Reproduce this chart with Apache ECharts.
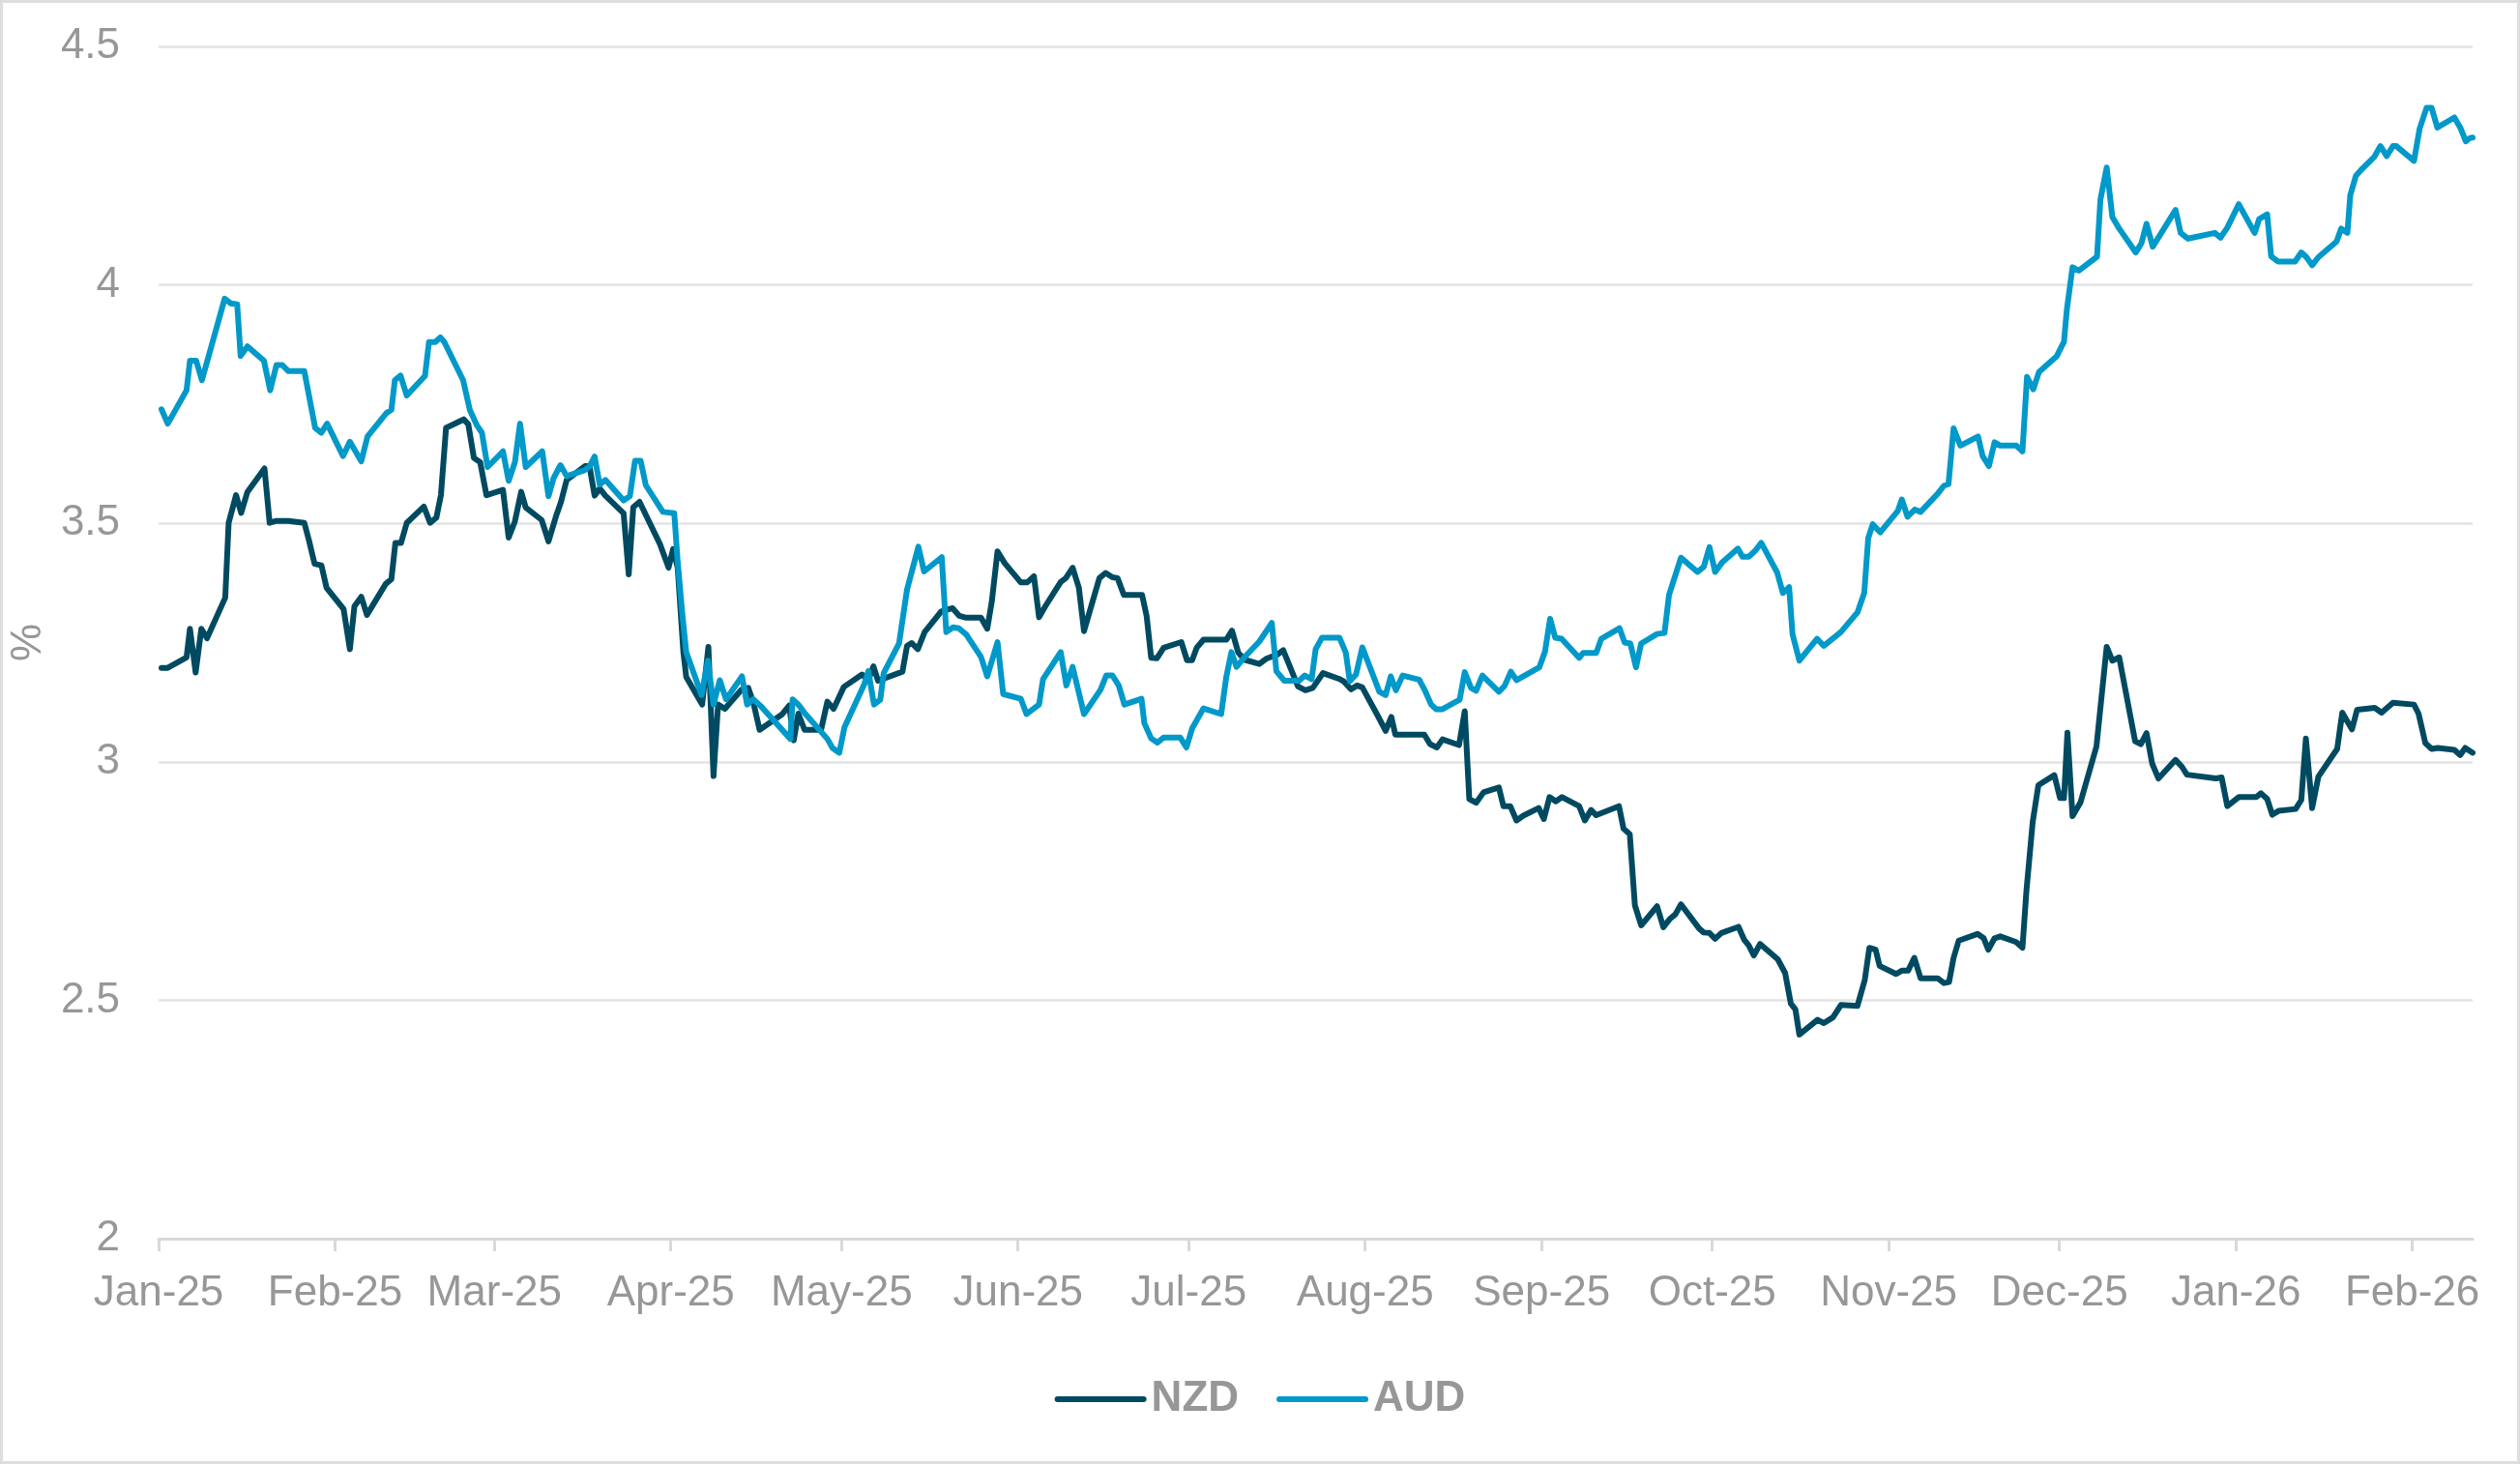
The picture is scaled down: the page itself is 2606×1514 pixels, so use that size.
<!DOCTYPE html>
<html>
<head>
<meta charset="utf-8">
<script src="https://cdn.jsdelivr.net/npm/echarts@6/dist/echarts.min.js"></script>
<style>
  html, body { margin: 0; padding: 0; background: #ffffff; }
  #wrap { position: relative; width: 2606px; height: 1514px; }
  #chart { position: absolute; left: 0; top: 0; width: 2606px; height: 1514px; }
  #frame { position: absolute; left: 0; top: 0; width: 2606px; height: 1514px; box-sizing: border-box; border: 3px solid #dedede; pointer-events: none; }
</style>
</head>
<body>
<div id="wrap"><div id="chart"></div><div id="frame"></div></div>
<script>
// x values: days since 1 Jan 2025
const tickLabels = ['Jan-25','Feb-25','Mar-25','Apr-25','May-25','Jun-25','Jul-25','Aug-25','Sep-25','Oct-25','Nov-25','Dec-25','Jan-26','Feb-26'];
const tickMonths = [[2025,0],[2025,1],[2025,2],[2025,3],[2025,4],[2025,5],[2025,6],[2025,7],[2025,8],[2025,9],[2025,10],[2025,11],[2026,0],[2026,1]];

const nzdDays = [0.5,1.6,4.9,5.5,6.5,7.5,8.5,11.7,12.3,13.6,14.5,15.6,18.6,19.5,20.7,22.8,25.6,26.4,27.4,28.6,29.5,32.5,33.6,34.4,35.6,36.6,39.9,40.9,41.6,42.6,43.6,46.6,47.7,48.8,49.6,50.5,53.6,54.4,55.4,56.5,57.6,60.5,61.5,62.6,63.7,64.5,67.3,68.5,69.8,70.7,71.7,72.6,74.9,75.7,76.6,77.5,78.5,81.7,82.6,83.4,84.5,88.1,89.6,90.4,91.2,92.2,92.7,95.5,96.6,97.5,98.3,99.5,102.4,103.6,104.5,105.6,109.6,110.8,111.6,112.4,113.5,116.4,117.5,118.6,120.4,123.6,124.7,125.6,126.4,130.7,131.5,132.3,133.4,134.6,137.5,139.5,140.7,141.9,144.5,145.6,146.4,147.4,148.7,151.5,152.6,153.8,154.7,155.8,158.5,159.4,160.6,161.7,162.6,165.3,166.4,167.6,168.5,169.6,172.8,173.6,174.4,175.4,176.6,179.7,180.7,181.6,182.4,183.6,187.6,188.6,189.7,190.8,193.4,194.6,196.6,197.6,200.2,201.5,202.8,204.6,207.4,208.3,209.5,210.6,211.5,214.2,215.6,216.6,217.3,222.4,223.4,224.6,225.6,228.5,229.5,230.3,231.5,232.8,235.5,236.3,237.5,238.6,239.8,242.5,243.4,244.4,245.5,246.6,249.6,250.6,251.7,252.6,256.6,257.4,258.5,259.4,260.5,263.3,264.4,265.5,266.5,267.5,270.7,271.5,272.5,273.5,274.6,277.6,278.6,279.4,280.3,281.4,284.5,285.8,286.8,287.6,288.3,291.5,292.6,294.2,295.6,298.5,299.8,300.6,301.7,302.4,305.3,306.3,307.4,308.5,309.6,312.6,313.7,314.6,315.4,316.3,319.6,320.7,321.5,322.6,323.6,326.4,327.5,328.2,329.3,330.3,333.1,334.1,334.8,335.4,336.3,337.7,340.5,342.3,343.3,344.5,347.3,348.3,349.3,350.3,351.4,354.4,355.5,356.4,361.5,362.5,363.5,365.5,368.6,369.4,370.5,371.4,372.5,375.5,376.5,377.3,378.4,379.5,382.8,383.7,385.4,386.3,389.4,390.6,392.6,396.3,397.1,398.3,399.4,400.5,403.4,404.4,405.3,406.6];
const nzdValues = [3.197,3.197,3.219,3.279,3.187,3.279,3.259,3.344,3.501,3.559,3.522,3.566,3.615,3.501,3.505,3.505,3.501,3.465,3.415,3.412,3.365,3.320,3.236,3.326,3.346,3.308,3.373,3.383,3.459,3.459,3.501,3.535,3.501,3.512,3.559,3.700,3.718,3.708,3.637,3.628,3.559,3.570,3.470,3.504,3.566,3.533,3.507,3.462,3.514,3.545,3.591,3.599,3.620,3.620,3.558,3.573,3.558,3.521,3.393,3.534,3.545,3.456,3.407,3.446,3.407,3.230,3.178,3.120,3.241,2.970,3.120,3.111,3.151,3.155,3.124,3.067,3.100,3.118,3.045,3.101,3.067,3.067,3.126,3.111,3.157,3.183,3.171,3.200,3.170,3.189,3.243,3.249,3.236,3.272,3.315,3.322,3.306,3.302,3.302,3.279,3.336,3.441,3.416,3.376,3.376,3.389,3.303,3.326,3.377,3.385,3.407,3.365,3.274,3.385,3.396,3.387,3.385,3.350,3.350,3.306,3.218,3.217,3.239,3.251,3.213,3.213,3.239,3.256,3.256,3.275,3.229,3.214,3.205,3.216,3.225,3.234,3.158,3.150,3.155,3.186,3.174,3.168,3.152,3.160,3.156,3.097,3.065,3.094,3.057,3.057,3.037,3.030,3.047,3.035,3.106,2.922,2.914,2.936,2.946,2.907,2.907,2.877,2.887,2.903,2.880,2.926,2.917,2.926,2.907,2.877,2.899,2.888,2.907,2.860,2.848,2.699,2.657,2.697,2.653,2.670,2.680,2.701,2.650,2.642,2.641,2.629,2.641,2.654,2.627,2.615,2.594,2.618,2.586,2.557,2.493,2.481,2.428,2.459,2.452,2.464,2.490,2.488,2.543,2.610,2.606,2.572,2.555,2.562,2.562,2.589,2.546,2.546,2.536,2.538,2.589,2.625,2.639,2.630,2.606,2.630,2.634,2.622,2.610,2.730,2.874,2.951,2.972,2.924,2.924,3.061,2.886,2.915,3.032,3.241,3.212,3.219,3.043,3.037,3.060,2.996,2.965,3.004,2.990,2.973,2.965,2.967,2.907,2.926,2.926,2.934,2.922,2.889,2.897,2.901,2.920,3.049,2.903,2.969,3.027,3.103,3.068,3.109,3.113,3.103,3.124,3.120,3.101,3.039,3.027,3.029,3.025,3.014,3.029,3.019];

const audDays = [0.5,1.6,4.9,5.5,6.6,7.6,11.6,12.7,13.8,14.4,15.6,18.5,19.6,20.7,21.7,22.8,25.6,27.5,28.6,29.6,32.4,33.6,35.6,36.7,40.0,40.9,41.5,42.5,43.6,46.8,47.5,48.6,49.5,50.2,53.5,54.7,55.9,56.8,57.8,60.5,61.5,62.6,63.5,64.5,67.4,68.5,69.4,70.6,71.7,74.0,74.8,75.7,76.6,77.5,78.5,81.7,82.8,83.7,84.7,85.6,88.6,90.6,91.2,92.0,92.7,95.4,96.5,97.5,98.6,99.7,102.5,103.4,104.5,105.7,111.0,111.4,112.4,113.6,117.5,118.4,119.6,120.5,124.0,124.7,125.7,126.8,127.4,130.1,131.5,133.5,134.5,137.6,138.4,139.6,140.6,141.9,144.5,145.6,147.4,148.4,151.5,152.5,154.7,155.4,158.5,159.5,160.6,162.6,165.5,166.5,167.6,168.7,169.7,172.7,173.2,174.4,175.5,176.6,179.5,180.6,181.6,183.6,186.7,187.6,188.5,189.4,190.7,193.4,195.6,196.4,197.8,200.4,201.4,202.6,203.3,204.4,207.5,208.6,209.3,210.4,211.5,214.5,215.6,216.5,217.4,218.6,221.5,222.4,223.6,224.5,225.5,228.6,229.5,230.6,231.5,232.6,235.5,236.5,237.6,238.6,242.6,243.6,244.5,245.4,246.5,249.6,250.3,252.6,253.5,256.7,257.6,258.6,259.6,260.5,263.3,264.6,265.4,267.5,270.4,271.5,272.5,273.5,274.8,277.5,278.3,279.4,280.5,281.6,284.4,285.4,286.5,287.1,288.3,291.4,292.6,295.6,298.5,299.7,300.4,301.2,302.5,305.6,306.3,307.3,308.6,309.6,312.6,313.7,314.5,315.4,316.6,319.7,320.5,321.6,322.6,323.6,326.4,327.5,328.3,329.4,330.4,333.5,334.8,335.3,336.3,337.4,340.6,341.2,342.3,343.3,344.5,347.4,348.4,349.3,350.4,354.4,355.3,356.6,361.3,362.3,363.5,365.5,368.3,369.1,370.5,371.2,372.4,375.4,376.5,377.4,378.4,379.5,382.7,383.5,384.6,385.1,386.1,387.0,389.3,390.4,391.5,392.6,393.2,396.3,397.3,398.5,399.4,400.4,403.4,404.5,405.4,406.0,406.6];
const audValues = [3.739,3.709,3.779,3.841,3.841,3.800,3.971,3.961,3.959,3.851,3.871,3.841,3.779,3.832,3.832,3.819,3.819,3.700,3.690,3.709,3.641,3.671,3.630,3.682,3.731,3.738,3.800,3.810,3.768,3.809,3.880,3.880,3.890,3.880,3.800,3.737,3.706,3.690,3.618,3.651,3.589,3.628,3.709,3.618,3.651,3.557,3.595,3.622,3.599,3.608,3.611,3.619,3.640,3.581,3.591,3.548,3.557,3.631,3.631,3.580,3.524,3.521,3.420,3.312,3.230,3.140,3.212,3.120,3.171,3.131,3.179,3.120,3.131,3.118,3.048,3.131,3.120,3.101,3.048,3.029,3.019,3.072,3.163,3.190,3.120,3.130,3.186,3.248,3.361,3.451,3.399,3.429,3.272,3.282,3.280,3.267,3.220,3.179,3.251,3.142,3.132,3.100,3.120,3.173,3.230,3.160,3.199,3.100,3.151,3.181,3.181,3.160,3.120,3.132,3.081,3.049,3.040,3.051,3.051,3.030,3.070,3.112,3.100,3.178,3.230,3.199,3.218,3.252,3.291,3.190,3.170,3.170,3.181,3.173,3.236,3.260,3.260,3.229,3.169,3.183,3.240,3.147,3.140,3.179,3.150,3.181,3.172,3.152,3.120,3.110,3.110,3.130,3.188,3.155,3.149,3.181,3.147,3.159,3.189,3.171,3.198,3.231,3.300,3.260,3.258,3.218,3.228,3.228,3.258,3.280,3.250,3.248,3.198,3.248,3.268,3.270,3.350,3.428,3.398,3.409,3.450,3.398,3.419,3.447,3.430,3.430,3.442,3.459,3.397,3.354,3.366,3.267,3.212,3.258,3.243,3.272,3.313,3.354,3.469,3.498,3.481,3.526,3.550,3.514,3.529,3.524,3.562,3.579,3.582,3.699,3.663,3.682,3.641,3.620,3.670,3.663,3.663,3.651,3.807,3.781,3.817,3.850,3.881,3.948,4.037,4.030,4.059,4.179,4.246,4.142,4.118,4.068,4.087,4.128,4.080,4.157,4.109,4.097,4.109,4.099,4.120,4.169,4.109,4.138,4.148,4.060,4.049,4.049,4.068,4.058,4.041,4.058,4.091,4.118,4.109,4.188,4.229,4.241,4.268,4.291,4.270,4.291,4.291,4.260,4.328,4.371,4.371,4.330,4.351,4.328,4.301,4.307,4.309];

const DAY = 86400000;
const base = Date.UTC(2025, 0, 1);
const tickDays = tickMonths.map(([y, m]) => Math.round((Date.UTC(y, m, 1) - base) / DAY));
const lastDay = Math.max(nzdDays[nzdDays.length - 1], audDays[audDays.length - 1]);

const pair = (xs, ys) => xs.map((x, i) => [x, ys[i]]);
const labelColor = '#979797';
const fontFamily = '"Liberation Sans", Arial, Helvetica, sans-serif';
const legendIcon = 'path://M3,0 L92,0 A3,3 0 0 1 92,6 L3,6 A3,3 0 0 1 3,0 Z';

const chart = echarts.init(document.getElementById('chart'), null, { renderer: 'canvas' });
chart.setOption({
  animation: false,
  backgroundColor: '#ffffff',
  grid: { left: 161, right: 49, top: 48, bottom: 233, containLabel: false },
  legend: {
    top: 1420,
    left: 'center',
    itemWidth: 95,
    itemHeight: 7,
    itemGap: 39,
    textStyle: { color: labelColor, fontSize: 44, fontWeight: 'bold', fontFamily: fontFamily },
    data: [{ name: 'NZD', icon: legendIcon }, { name: 'AUD', icon: legendIcon }]
  },
  xAxis: {
    type: 'value',
    min: 0,
    max: lastDay,
    splitLine: { show: false },
    axisLine: { show: true, lineStyle: { color: '#d9d9d9', width: 3 } },
    axisTick: { show: true, length: 13, lineStyle: { color: '#d9d9d9', width: 3 }, customValues: tickDays },
    axisLabel: {
      customValues: tickDays,
      margin: 35,
      color: labelColor,
      fontSize: 44,
      fontFamily: fontFamily,
      formatter: (v) => { const i = tickDays.indexOf(Math.round(v)); return i >= 0 ? tickLabels[i] : ''; }
    }
  },
  yAxis: {
    type: 'value',
    min: 2,
    max: 4.5,
    interval: 0.5,
    name: '%',
    nameLocation: 'middle',
    nameGap: 96,
    nameTextStyle: { color: labelColor, fontSize: 44, fontFamily: fontFamily },
    axisLine: { show: false },
    axisTick: { show: false },
    splitLine: { show: true, lineStyle: { color: '#e3e3e3', width: 2.5 } },
    axisLabel: { margin: 40, color: labelColor, fontSize: 44, fontFamily: fontFamily }
  },
  series: [
    {
      name: 'NZD', type: 'line', symbol: 'none', data: pair(nzdDays, nzdValues),
      itemStyle: { color: '#004a61' },
      lineStyle: { color: '#004a61', width: 6, join: 'round', cap: 'round' }
    },
    {
      name: 'AUD', type: 'line', symbol: 'none', data: pair(audDays, audValues),
      itemStyle: { color: '#0099c9' },
      lineStyle: { color: '#0099c9', width: 6, join: 'round', cap: 'round' }
    }
  ]
});
</script>
</body>
</html>
